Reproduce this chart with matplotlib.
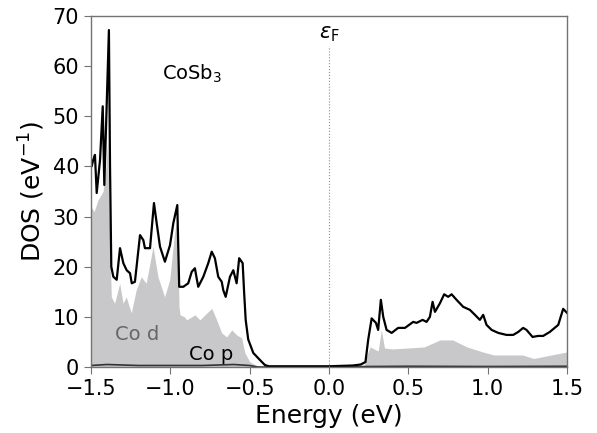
import numpy as np
import matplotlib.pyplot as plt

# total DOS of CoSb3 (states / eV)
energy_tot = [-1.500, -1.496, -1.486, -1.475, -1.464, -1.443, -1.426, -1.416, -1.387,
              -1.380, -1.372, -1.359, -1.338, -1.317, -1.296, -1.275, -1.254, -1.243,
              -1.223, -1.191, -1.170, -1.160, -1.128, -1.103, -1.086, -1.065, -1.034,
              -1.002, -0.981, -0.956, -0.944, -0.918, -0.887, -0.865, -0.845, -0.834,
              -0.824, -0.792, -0.761, -0.739, -0.719, -0.698, -0.676, -0.666, -0.651,
              -0.624, -0.603, -0.582, -0.566, -0.544, -0.535, -0.525, -0.509, -0.477,
              -0.435, -0.404, -0.380, 0.000, 0.150, 0.200, 0.230, 0.247, 0.269, 0.296,
              0.310, 0.327, 0.342, 0.363, 0.395, 0.436, 0.479, 0.531, 0.552, 0.590,
              0.615, 0.636, 0.653, 0.668, 0.699, 0.726, 0.751, 0.773, 0.804, 0.846,
              0.888, 0.920, 0.951, 0.972, 0.993, 1.025, 1.067, 1.119, 1.161, 1.193,
              1.224, 1.245, 1.283, 1.319, 1.350, 1.392, 1.445, 1.476, 1.500]
dos_tot = [40.0, 40.0, 41.3, 42.3, 34.7, 41.3, 52.0, 36.3, 67.2,
           40.0, 20.0, 18.0, 17.4, 23.7, 20.7, 19.3, 18.7, 16.7,
           17.0, 26.3, 25.3, 23.7, 23.7, 32.7, 28.7, 24.0, 21.0,
           24.3, 28.7, 32.3, 16.0, 16.0, 16.7, 19.0, 19.7, 17.7,
           16.0, 18.0, 20.7, 23.0, 21.7, 18.0, 17.0, 15.3, 14.0,
           18.0, 19.3, 16.7, 21.7, 20.7, 15.0, 9.4, 5.5, 2.8,
           1.4, 0.4, 0.15, 0.15, 0.3, 0.5, 1.0, 5.4, 9.7, 8.8,
           7.4, 13.4, 10.0, 7.4, 6.8, 7.8, 7.8, 9.0, 8.8, 9.4,
           9.0, 10.0, 13.0, 11.0, 12.7, 14.5, 14.0, 14.5, 13.4, 12.0,
           11.4, 10.4, 9.4, 10.4, 8.4, 7.4, 6.8, 6.4, 6.4, 7.0,
           7.8, 7.4, 6.0, 6.2, 6.2, 7.0, 8.4, 11.6, 10.8]

# Co d projected DOS
energy_d = [-1.500, -1.480, -1.456, -1.424, -1.405, -1.395, -1.385, -1.372, -1.351,
            -1.319, -1.298, -1.278, -1.246, -1.215, -1.183, -1.152, -1.109, -1.078,
            -1.036, -1.004, -0.973, -0.956, -0.945, -0.939, -0.910, -0.897, -0.845,
            -0.813, -0.782, -0.739, -0.708, -0.676, -0.645, -0.613, -0.582, -0.550,
            -0.530, -0.498, -0.456, -0.420, 0.000, 0.220, 0.240, 0.260, 0.290, 0.310,
            0.330, 0.350, 0.400, 0.500, 0.600, 0.700, 0.780, 0.870, 0.970, 1.040,
            1.220, 1.290, 1.450, 1.500]
dos_d = [32.0, 31.0, 33.3, 35.0, 40.0, 45.0, 30.0, 14.0, 12.7,
         16.7, 12.7, 14.0, 10.8, 15.4, 18.0, 16.7, 24.0, 18.0,
         14.0, 17.4, 26.7, 30.0, 12.0, 10.4, 10.0, 9.4, 10.4,
         9.4, 10.4, 11.7, 9.4, 6.8, 6.0, 7.4, 6.4, 5.8,
         2.8, 1.0, 0.3, 0.0, 0.0, 0.0, 2.5, 4.0, 3.5, 3.2,
         7.4, 3.8, 3.6, 3.8, 4.0, 5.4, 5.4, 4.0, 3.0, 2.4,
         2.4, 1.7, 2.7, 3.0]

# Co p projected DOS
energy_p = [-1.5, -1.4, -1.2, -1.0, -0.8, -0.6, -0.5, -0.45, 0.0, 0.25, 0.5, 1.0, 1.5]
dos_p = [0.3, 0.5, 0.3, 0.3, 0.3, 0.5, 0.3, 0.0, 0.0, 0.1, 0.15, 0.1, 0.15]

fig = plt.figure(figsize=(5.97, 4.33), dpi=100)
ax = fig.add_axes([0.1524, 0.1524, 0.7973, 0.8106])

ax.fill_between(energy_d, 0, dos_d, color='#c8c8ca', lw=0)
ax.plot(energy_p, dos_p, color='0.2', lw=1.2)
ax.plot(energy_tot, dos_tot, color='black', lw=1.6)

# Fermi level
ax.plot([0, 0], [0, 64], color='0.55', lw=0.8, ls=':')
ax.text(0, 64.5, r'$\varepsilon_{\mathrm{F}}$', ha='center', va='bottom', fontsize=15)

ax.text(-1.055, 58.5, r'CoSb$_3$', fontsize=14, ha='left', va='center')
ax.text(-1.35, 6.4, 'Co d', fontsize=14, color='0.4', ha='left', va='center')
ax.text(-0.88, 2.4, 'Co p', fontsize=14, color='black', ha='left', va='center')

ax.set_xlim(-1.5, 1.5)
ax.set_ylim(0, 70)
ax.set_xticks([-1.5, -1.0, -0.5, 0.0, 0.5, 1.0, 1.5])
ax.set_yticks(range(0, 71, 10))
ax.tick_params(labelsize=15, color='0.45', length=5, top=False, right=False)
for s in ax.spines.values():
    s.set_color('0.45')
    s.set_linewidth(1.0)

ax.set_xlabel('Energy (eV)', fontsize=18)
ax.set_ylabel(r'DOS (eV$^{-1}$)', fontsize=18)

plt.savefig('out.png', dpi=100)
